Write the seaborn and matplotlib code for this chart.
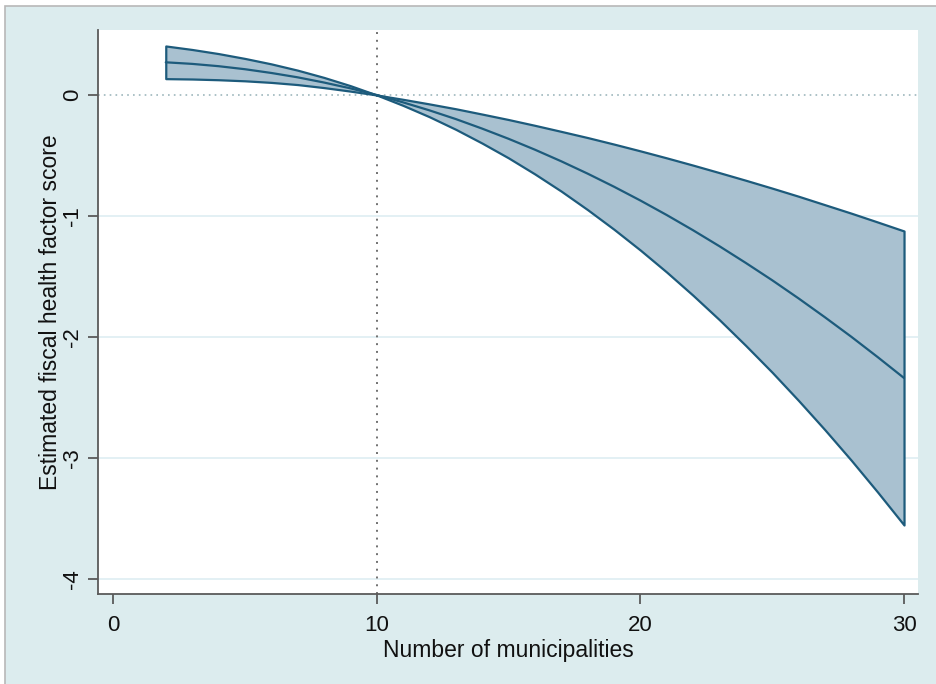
import numpy as np
import pandas as pd
import matplotlib
matplotlib.use("Agg")
import matplotlib.pyplot as plt
from matplotlib.patches import Rectangle
import seaborn as sns

# values
municipalities = list(range(2, 31))
estimate = [0.270, 0.257, 0.238, 0.213, 0.182, 0.146, 0.103, 0.055, 0.0,
            -0.061, -0.127, -0.199, -0.278, -0.362, -0.452, -0.548, -0.650,
            -0.758, -0.872, -0.992, -1.118, -1.250, -1.388, -1.531, -1.681,
            -1.837, -1.998, -2.166, -2.339]
upper_ci = [0.405, 0.376, 0.342, 0.302, 0.257, 0.205, 0.145, 0.077, 0.0,
            -0.036, -0.074, -0.114, -0.158, -0.203, -0.251, -0.301, -0.352,
            -0.406, -0.462, -0.520, -0.580, -0.642, -0.705, -0.770, -0.837,
            -0.907, -0.977, -1.050, -1.124]
lower_ci = [0.135, 0.132, 0.126, 0.117, 0.104, 0.086, 0.061, 0.032, 0.0,
            -0.086, -0.180, -0.284, -0.398, -0.520, -0.653, -0.795, -0.948,
            -1.110, -1.282, -1.464, -1.656, -1.858, -2.071, -2.292, -2.525,
            -2.767, -3.019, -3.282, -3.554]
x_ticks = [0, 10, 20, 30]
y_ticks = [0, -1, -2, -3, -4]

BG = '#dcecee'
LINE = '#1d5b7c'
FILL = '#a9c1d0'

sns.set_theme(style="white")
plt.rcParams['font.family'] = ['Liberation Sans', 'DejaVu Sans']

df = pd.DataFrame({"x": municipalities, "est": estimate,
                   "hi": upper_ci, "lo": lower_ci})

fig = plt.figure(figsize=(9.37, 6.84), dpi=100, facecolor='white')
# Stata-like graph region with a thin border on the left and top
fig.patches.append(Rectangle((5 / 937, -0.01), 1.0, 1 - 6 / 684 + 0.01,
                             transform=fig.transFigure, facecolor=BG,
                             edgecolor='#b8b8b8', linewidth=1.2, zorder=-10))
ax = fig.add_axes([98 / 937, 1 - 594 / 684, 820 / 937, 564 / 684])
ax.set_facecolor('white')

# grid lines and reference lines
for yv in y_ticks[1:]:
    ax.axhline(yv, color='#e1eff3', linewidth=1.3, zorder=0)
ax.axhline(0, color='#9db6bc', linewidth=1.2, linestyle=(0, (1, 2.5)), zorder=1)
ax.axvline(10, color='#707070', linewidth=1.4, linestyle=(0, (1, 3)), zorder=1)

# confidence band + point estimate
ax.fill_between(df["x"], df["lo"], df["hi"], facecolor=FILL,
                edgecolor=LINE, linewidth=1.6, zorder=2)
sns.lineplot(data=df, x="x", y="est", color=LINE, linewidth=1.6, ax=ax, zorder=3)

ax.set_xlim(-0.57, 30.53)
ax.set_ylim(-4.124, 0.537)
ax.set_xticks(x_ticks)
ax.set_yticks(y_ticks)
ax.set_yticklabels([str(v) for v in y_ticks], rotation=90, va='center')

for s in ['top', 'right']:
    ax.spines[s].set_visible(False)
for s in ['left', 'bottom']:
    ax.spines[s].set_color('#5a5a5a')
    ax.spines[s].set_linewidth(1.3)

ax.tick_params(axis='both', which='major', direction='out', length=7,
               width=1.3, color='#5a5a5a', labelsize=16, labelcolor='#111111',
               left=True, bottom=True)
ax.tick_params(axis='x', pad=8)
ax.tick_params(axis='y', pad=4)

ax.set_xlabel("Number of municipalities", fontsize=16.5, color='#111111', labelpad=2)
ax.set_ylabel("Estimated fiscal health factor score", fontsize=16.5,
              color='#111111', labelpad=0)

fig.savefig("out.png", dpi=100, facecolor=fig.get_facecolor())
